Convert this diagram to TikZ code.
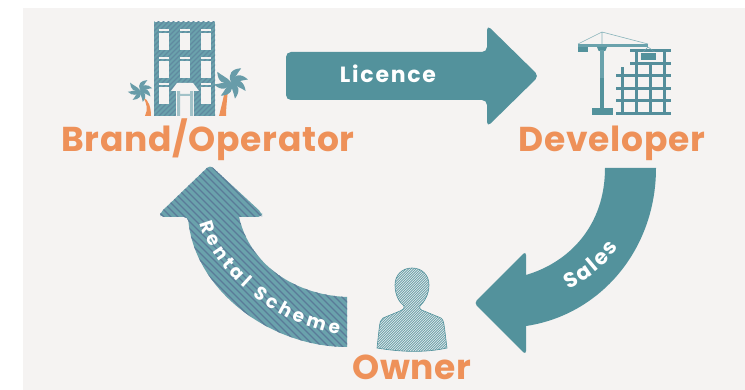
\documentclass[tikz,border=0pt]{standalone}
\usepackage{fontspec}
\setmainfont{Poppins}
\newfontfamily\labelfont[LetterSpace=2]{Poppins}
\newfontfamily\licencefont[LetterSpace=8]{Poppins}
\newfontfamily\flowfont{Poppins}
\usetikzlibrary{decorations.text}
\definecolor{panelcol}{HTML}{F5F3F2}
\definecolor{tealcol}{HTML}{53929C}
\definecolor{palecol}{HTML}{6AA2AC}
\definecolor{darkcol}{HTML}{5A7A98}
\definecolor{orangecol}{HTML}{EE9159}
\tikzset{
	partylabel/.style={text=orangecol, font=\labelfont\bfseries\fontsize{34.5}{34.5}\selectfont, inner sep=0pt, anchor=base},
	flowlabel/.style={text=white, font=\licencefont\bfseries\fontsize{22}{22}\selectfont, inner sep=0pt, anchor=base},
	hatchline/.style={line width=1.1pt},
}
\newcommand{\hatchdown}[4]{%x from, x next, x to, colour
	\foreach \x in {#1,#2,...,#3} {
		\draw[hatchline, #4] (\x, 0) -- ++(390, 390);
	}
}
\newcommand{\hatchup}[4]{%x from, x next, x to, colour
	\foreach \x in {#1,#2,...,#3} {
		\draw[hatchline, #4] (\x, 390) -- ++(390, -390);
	}
}
\begin{document}
\begin{tikzpicture}[x=1pt, y=-1pt]
	\useasboundingbox (0,0) rectangle (745,390);
	\fill[white] (0,0) rectangle (745,390);
	\fill[panelcol] (23,8) rectangle (745,390);
	%licence arrow
	\fill[tealcol, rounded corners=5pt] (286,52) -- (487,52) -- (487,25) -- (539,76) -- (487,127) -- (487,100) -- (286,100) -- cycle;
	\node[flowlabel] (licence) at (388,83) {Licence};
	%sales arrow
	\fill[tealcol] (605,168) -- (656,168)
		.. controls (656,250) and (600,315) .. (526,326)
		-- (526,340) [rounded corners=4pt] -- (526,355) -- (474,303) -- (526,251) [sharp corners] -- (526,275)
		.. controls (570,262) and (605,225) .. (605,168) -- cycle;
	\path[decorate, decoration={text along path, text align={fit to path}, text={|\flowfont\bfseries\fontsize{21}{21}\selectfont\color{white}|Sales}}]
		(568,289) .. controls (588,280) and (606,266) .. (618,247);
	%rental scheme arrow
	\begin{scope}
		\clip[rounded corners=4pt] (239,217) -- (262,217) -- (262,213) -- (210,165) -- (160,213) -- (160,217) -- (188,217)
			[sharp corners] .. controls (195,290) and (270,347) .. (347,347) -- (347,297)
			.. controls (295,295) and (250,265) .. (239,217) -- cycle;
		\fill[palecol] (150,160) rectangle (350,350);
		\hatchdown{-200}{-193}{190}{darkcol}
	\end{scope}
	\path[decorate, decoration={text along path, text align={fit to path}, text={|\flowfont\bfseries\fontsize{18.5}{18.5}\selectfont\color{white}|Rental Scheme}}]
		(200,223) .. controls (212,270) and (275,326) .. (339,334);
	%hotel
	\begin{scope}
		\clip (154,22) rectangle (215,116);
		\fill[palecol] (154,22) rectangle (215,116);
		\hatchup{-220}{-215}{-50}{darkcol!60!palecol}
	\end{scope}
	\foreach \x in {159,180,201} {
		\foreach \y in {29,57,83} {
			\fill[panelcol] (\x,\y) rectangle ++(10,2);
			\fill[panelcol] (\x,\y+4) rectangle ++(10,17);
		}
	}
	\fill[panelcol] (176,91) rectangle (194,116);
	\fill[palecol!60!panelcol] (177,91) rectangle (180,116) (190,91) rectangle (193,116) (180,94) rectangle (190,96);
	\fill[panelcol] (177,83) -- (193,83) -- (199,91) -- (171,91) -- cycle;
	%palms
	\fill[orangecol] (143,97) .. controls (147,103) and (148,110) .. (145,116) -- (151,116) .. controls (151,108) and (149,100) .. (143,97) -- cycle;
	\fill[orangecol] (225,90) .. controls (223,100) and (221,108) .. (219,116) -- (226,116) .. controls (226,108) and (227,100) .. (228,90) -- cycle;
	\foreach \cx/\cy/\s in {140/90/0.72, 231/82/1} {
		\begin{scope}[shift={(\cx,\cy)}, scale=\s]
			\foreach \a in {-165,-120,-70,-25,15,60,150} {
				\fill[palecol!85!darkcol, rotate=\a] (0,0) .. controls (5,-7) and (12,-6) .. (17,2) .. controls (12,1) and (5,2) .. (0,0) -- cycle;
			}
		\end{scope}
	}
	%crane
	\draw[tealcol!70, line width=0.6pt] (578,44) -- (602,32) -- (648,44) (602,32) -- (602,45);
	\fill[palecol] (578,44) rectangle (648,47);
	\fill[tealcol] (578,47) rectangle (588,52);
	\fill[tealcol] (597,47) arc[start angle=180, end angle=0, radius=5] -- cycle;
	\fill[palecol] (600,50) rectangle (604,78);
	\fill[tealcol] (600,78) rectangle (604,108);
	\fill[tealcol] (592,108) rectangle (613,115);
	%tower under construction
	\foreach \x/\t in {621/67, 635/49, 649/62, 663/49} {
		\fill[tealcol!85!darkcol] (\x,\t) rectangle ++(3,115-\t);
	}
	\foreach \y in {49,62} {
		\fill[tealcol!85!darkcol] (630,\y) rectangle (671,\y+3.5);
	}
	\foreach \y in {74,87,99,112} {
		\fill[tealcol!85!darkcol] (616,\y) rectangle (671,\y+3.5);
	}
	\draw[palecol, line width=0.5pt] (648,47) -- (642,53) (648,47) -- (656,53);
	\fill[panelcol] (640,52) rectangle (658,61);
	\fill[tealcol] (641,53) rectangle (656,60);
	%owner
	\begin{scope}
		\clip (395,285) .. controls (395,275) and (402,268) .. (412,268) .. controls (422,268) and (429,275) .. (429,285)
			.. controls (429,295) and (424,302) .. (420,306) .. controls (419,309) and (421,310) .. (424,311)
			-- (441,318) .. controls (444,320) and (444,325) .. (445,332) -- (447,348) .. controls (425,353) and (400,352) .. (377,348)
			-- (379,330) .. controls (380,322) and (380,320) .. (383,318) -- (400,311) .. controls (404,309) and (405,308) .. (404,306)
			.. controls (399,302) and (395,295) .. (395,285) -- cycle;
		\fill[panelcol] (370,260) rectangle (450,355);
		\foreach \x in {270,272.5,...,460} {\draw[palecol, line width=0.9pt] (\x,360) -- ++(100,-100);}
	\end{scope}
	\draw[tealcol, line width=0.6pt] (395,285) .. controls (395,275) and (402,268) .. (412,268) .. controls (422,268) and (429,275) .. (429,285)
			.. controls (429,295) and (424,302) .. (420,306) .. controls (419,309) and (421,310) .. (424,311)
			-- (441,318) .. controls (444,320) and (444,325) .. (445,332) -- (447,348) .. controls (425,353) and (400,352) .. (377,348)
			-- (379,330) .. controls (380,322) and (380,320) .. (383,318) -- (400,311) .. controls (404,309) and (405,308) .. (404,306)
			.. controls (399,302) and (395,295) .. (395,285) -- cycle;
	%names
	\node[partylabel] (brand) at (208,152) {Brand/Operator};
	\node[partylabel] (developer) at (612,152) {Developer};
	\node[partylabel] (owner) at (412,380) {Owner};
\end{tikzpicture}
\end{document}
